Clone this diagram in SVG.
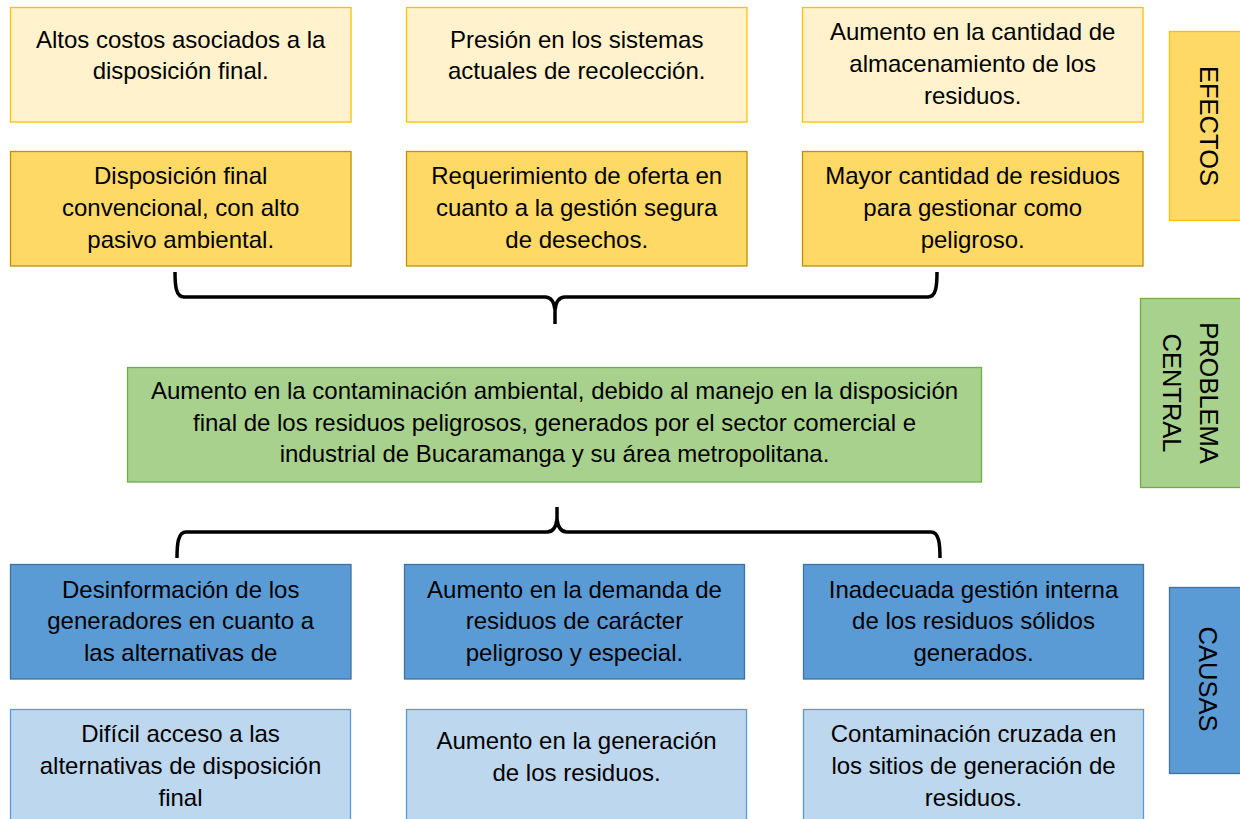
<svg xmlns="http://www.w3.org/2000/svg" width="1240" height="819" viewBox="0 0 1240 819">
<style>
text{font-family:"Liberation Sans",Arial,sans-serif;font-size:24px;fill:#000;text-anchor:middle}
.side{font-size:25.5px}
.ef1{fill:#FFF2CC;stroke:#FFC000;stroke-width:1.3}
.ef2{fill:#FFD966;stroke:#BF9000;stroke-width:1.3}
.efl{fill:#FFD966;stroke:#FFC000;stroke-width:1.3}
.pc{fill:#A9D18E;stroke:#70AD47;stroke-width:1.3}
.c1{fill:#5B9BD5;stroke:#41719C;stroke-width:1.3}
.c2{fill:#BDD7EE;stroke:#5B9BD5;stroke-width:1.3}
.brace{fill:none;stroke:#000;stroke-width:3.5}
</style>
<rect width="1240" height="819" fill="#fff"/>

<g id="efecto-1"><rect class="ef1" x="10.5" y="7.5" width="340.5" height="114.5"/>
<text x="180.7" y="47.5">Altos costos asociados a la</text><text x="180.7" y="79">disposición final.</text></g>
<g id="efecto-2"><rect class="ef1" x="406.5" y="7.5" width="340.5" height="114.5"/>
<text x="576.7" y="47.5">Presión en los sistemas</text><text x="576.7" y="79">actuales de recolección.</text></g>
<g id="efecto-3"><rect class="ef1" x="802.5" y="7.5" width="340.5" height="114.5"/>
<text x="972.7" y="40">Aumento en la cantidad de</text><text x="972.7" y="72">almacenamiento de los</text><text x="972.7" y="104">residuos.</text></g>

<g id="efecto-4"><rect class="ef2" x="10.5" y="151.5" width="340.5" height="114.5"/>
<text x="180.7" y="184">Disposición final</text><text x="180.7" y="216">convencional, con alto</text><text x="180.7" y="248">pasivo ambiental.</text></g>
<g id="efecto-5"><rect class="ef2" x="406.5" y="151.5" width="340.5" height="114.5"/>
<text x="576.7" y="184">Requerimiento de oferta en</text><text x="576.7" y="216">cuanto a la gestión segura</text><text x="576.7" y="248">de desechos.</text></g>
<g id="efecto-6"><rect class="ef2" x="802.5" y="151.5" width="340.5" height="114.5"/>
<text x="972.7" y="184">Mayor cantidad de residuos</text><text x="972.7" y="216">para gestionar como</text><text x="972.7" y="248">peligroso.</text></g>

<g id="label-efectos"><rect class="efl" x="1169.5" y="31.5" width="80" height="189"/>
<text class="side" transform="translate(1209,126) rotate(90)" y="9.3">EFECTOS</text></g>

<g id="problema-central"><rect class="pc" x="127.5" y="367.5" width="854" height="114.5"/>
<text x="554.5" y="399.3">Aumento en la contaminación ambiental, debido al manejo en la disposición</text>
<text x="554.5" y="430.8">final de los residuos peligrosos, generados por el sector comercial e</text>
<text x="554.5" y="462.3">industrial de Bucaramanga y su área metropolitana.</text></g>

<g id="label-problema"><rect class="pc" x="1140.5" y="298.5" width="110" height="189"/>
<g transform="translate(1191,393) rotate(90)"><text class="side" y="-8.7">PROBLEMA</text><text class="side" y="27.8">CENTRAL</text></g></g>

<g id="causa-1"><rect class="c1" x="10.5" y="564.5" width="340.5" height="114.5"/>
<text x="180.7" y="597.5">Desinformación de los</text><text x="180.7" y="629">generadores en cuanto a</text><text x="180.7" y="661">las alternativas de</text></g>
<g id="causa-2"><rect class="c1" x="404.5" y="564.5" width="340" height="114.5"/>
<text x="574.5" y="597.5">Aumento en la demanda de</text><text x="574.5" y="629">residuos de carácter</text><text x="574.5" y="661">peligroso y especial.</text></g>
<g id="causa-3"><rect class="c1" x="803.5" y="564.5" width="340" height="114.5"/>
<text x="973.5" y="597.5">Inadecuada gestión interna</text><text x="973.5" y="629">de los residuos sólidos</text><text x="973.5" y="661">generados.</text></g>

<g id="causa-4"><rect class="c2" x="10.5" y="709.5" width="340" height="130"/>
<text x="180.5" y="742">Difícil acceso a las</text><text x="180.5" y="774">alternativas de disposición</text><text x="180.5" y="806">final</text></g>
<g id="causa-5"><rect class="c2" x="406.5" y="709.5" width="340" height="130"/>
<text x="576.5" y="749">Aumento en la generación</text><text x="576.5" y="780.5">de los residuos.</text></g>
<g id="causa-6"><rect class="c2" x="803.5" y="709.5" width="340" height="130"/>
<text x="973.5" y="742">Contaminación cruzada en</text><text x="973.5" y="774">los sitios de generación de</text><text x="973.5" y="805.5">residuos.</text></g>

<g id="label-causas"><rect class="c1" x="1169.5" y="587.5" width="80" height="186"/>
<text class="side" transform="translate(1208,679) rotate(90)" y="9.3">CAUSAS</text></g>

<g id="connectors">
<path class="brace" d="M175,272 C175,286 176,297 184,297 L545,297 C551,297 554,301 555,310 L555,324 M555,310 C556,301 559,297 565,297 L928,297 C936,297 937,286 937,272"/>
<path class="brace" d="M177,558 C177,544 178,532 186,532 L547,532 C553,532 556,528 557,519 L557,507 M557,519 C558,528 561,532 567,532 L931,532 C939,532 940,544 940,558"/>
</g>
</svg>
